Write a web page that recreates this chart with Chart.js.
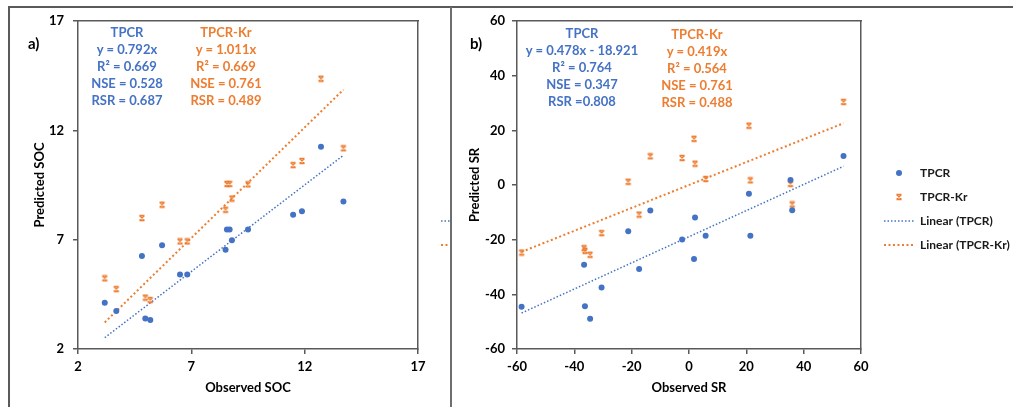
<!DOCTYPE html>
<html>
<head>
<meta charset="utf-8">
<script src="https://cdn.jsdelivr.net/npm/chart.js@4.4.1/dist/chart.umd.min.js"></script>
<style>
  body { margin: 0; background: #fff; width: 1013px; height: 407px; overflow: hidden; position: relative; font-family: Lato, sans-serif; }
  #frame { position: absolute; left: 8px; top: 6px; width: 1200px; height: 600px; border: 2px solid #5a5a5a; }
  #sep { position: absolute; left: 450px; top: 7px; width: 2px; height: 420px; background: #6e6e6e; }
  #wrapA { position: absolute; left: 0; top: 0; width: 450px; height: 407px; overflow: hidden; }
  #chartA { position: absolute; left: 0; top: 0; }
  #chartB { position: absolute; left: 452px; top: 0; }
  .note { position: absolute; width: 200px; text-align: center; font-weight: bold; font-size: 13px; line-height: 17px; white-space: nowrap; }
  .tag { position: absolute; font-weight: bold; font-size: 15px; color: #000; }
</style>
</head>
<body>
<div id="frame"></div>
<div id="wrapA"><canvas id="chartA" width="570" height="407"></canvas></div>
<div id="sep"></div>
<canvas id="chartB" width="561" height="407"></canvas>

<script>
const BLUE = "#4472C4";
const ORANGE = "#ED7D31";
const AXIS = "#595959";

// panel a: soil organic carbon
const socObserved = [3.18, 3.69, 4.82, 4.97, 5.19, 5.71, 6.5, 6.82, 8.51, 8.57, 8.69, 8.79, 9.5, 11.49, 11.88, 12.72, 13.71];
const socTPCR = [4.12, 3.74, 6.25, 3.40, 3.33, 6.74, 5.41, 5.41, 6.54, 7.46, 7.47, 6.97, 7.46, 8.14, 8.30, 11.25, 8.75];
const socTPCRKr = [5.23, 4.74, 7.99, 4.35, 4.24, 8.60, 6.92, 6.92, 8.37, 9.55, 9.55, 8.88, 9.53, 10.41, 10.60, 14.36, 11.18];
const socFitTPCR = [0.792, 0];     // slope, intercept
const socFitTPCRKr = [1.011, 0];
const socTicks = [2, 17, 5];       // min, max, step

// panel b: SR
const srObserved = [-58.4, -36.6, -36.3, -34.5, -30.5, -21.2, -17.4, -13.5, -2.4, 1.75, 2.1, 5.8, 20.9, 21.4, 35.4, 36.0, 53.9];
const srTPCR = [-44.5, -29.2, -44.4, -48.9, -37.5, -16.9, -30.7, -9.3, -19.9, -27.1, -11.9, -18.6, -3.2, -18.6, 1.8, -9.2, 10.6];
const srTPCRKr = [-24.7, -23.1, -24.1, -25.5, -17.6, 1.2, -10.8, 10.5, 9.9, 16.9, 7.8, 2.2, 21.7, 1.7, 0.4, -7.1, 30.4];
const srFitTPCR = [0.478, -18.921];
const srFitTPCRKr = [0.419, 0];
const srTicks = [-60, 60, 20];

const seriesNames = ["TPCR", "TPCR-Kr", "Linear (TPCR)", "Linear (TPCR-Kr)"];

const statsA = [
  ["TPCR", "y = 0.792x", "R² = 0.669", "NSE = 0.528", "RSR = 0.687"],
  ["TPCR-Kr", "y = 1.011x", "R² = 0.669", "NSE = 0.761", "RSR = 0.489"]
];
const statsB = [
  ["TPCR", "y = 0.478x - 18.921", "R² = 0.764", "NSE = 0.347", "RSR =0.808"],
  ["TPCR-Kr", "y = 0.419x", "R² = 0.564", "NSE = 0.761", "RSR = 0.488"]
];

function makeIcon(w, h, draw) {
  const c = document.createElement("canvas");
  c.width = w;
  c.height = h;
  draw(c.getContext("2d"));
  return c;
}

// excel style "x" marker
const xMarker = makeIcon(8, 8, (ctx) => {
  ctx.strokeStyle = ORANGE;
  ctx.lineWidth = 1.3;
  ctx.beginPath();
  ctx.moveTo(1.5, 1.5); ctx.lineTo(6.5, 6.5);
  ctx.moveTo(6.5, 1.5); ctx.lineTo(1.5, 6.5);
  ctx.moveTo(1.5, 1.5); ctx.lineTo(6.5, 1.5);
  ctx.moveTo(1.5, 6.5); ctx.lineTo(6.5, 6.5);
  ctx.stroke();
});

const legendIcons = [
  makeIcon(30, 12, (ctx) => {
    ctx.fillStyle = BLUE;
    ctx.beginPath();
    ctx.arc(15, 6, 3, 0, Math.PI * 2);
    ctx.fill();
  }),
  makeIcon(30, 12, (ctx) => ctx.drawImage(xMarker, 11, 2)),
  makeIcon(30, 12, (ctx) => {
    ctx.strokeStyle = BLUE;
    ctx.lineWidth = 1.5;
    ctx.setLineDash([1.5, 2]);
    ctx.beginPath(); ctx.moveTo(0, 6); ctx.lineTo(30, 6); ctx.stroke();
  }),
  makeIcon(30, 12, (ctx) => {
    ctx.strokeStyle = ORANGE;
    ctx.lineWidth = 2;
    ctx.setLineDash([2, 2.5]);
    ctx.beginPath(); ctx.moveTo(0, 6); ctx.lineTo(30, 6); ctx.stroke();
  })
];

function points(xs, ys) {
  return xs.map((x, i) => ({ x: x, y: ys[i] }));
}

function fitLine(xs, fit) {
  const lo = Math.min(...xs);
  const hi = Math.max(...xs);
  return [{ x: lo, y: fit[0] * lo + fit[1] }, { x: hi, y: fit[0] * hi + fit[1] }];
}

const tickFont = { family: "Lato", size: 13, weight: "bold" };

function makeChart(canvas, o) {
  return new Chart(canvas, {
    type: "scatter",
    data: {
      datasets: [
        {
          label: seriesNames[0], data: points(o.obs, o.tpcr),
          pointStyle: "circle", pointRadius: 3, backgroundColor: BLUE, borderColor: BLUE, borderWidth: 0,
          xAxisID: "x", yAxisID: "y"
        },
        {
          label: seriesNames[1], data: points(o.obs, o.kr),
          pointStyle: xMarker, pointRadius: 4, backgroundColor: ORANGE, borderColor: ORANGE,
          xAxisID: "x", yAxisID: "y"
        },
        {
          label: seriesNames[2], data: fitLine(o.obs, o.fitT), showLine: true,
          pointRadius: 0, borderColor: BLUE, borderWidth: 1.5, borderDash: [1.5, 2], fill: false,
          xAxisID: "x", yAxisID: "y"
        },
        {
          label: seriesNames[3], data: fitLine(o.obs, o.fitK), showLine: true,
          pointRadius: 0, borderColor: ORANGE, borderWidth: 2, borderDash: [2, 2.5], fill: false,
          xAxisID: "x", yAxisID: "y"
        }
      ]
    },
    options: {
      responsive: false,
      animation: false,
      layout: { padding: { left: o.padLeft, right: 0, top: 21, bottom: 10 } },
      plugins: {
        tooltip: { enabled: false },
        legend: {
          position: "right",
          maxWidth: 141,
          labels: {
            usePointStyle: true,
            pointStyleWidth: 30,
            padding: 12,
            color: "#1a1a1a",
            font: { family: "Lato", size: 12, weight: "bold" },
            generateLabels: (chart) => chart.data.datasets.map((ds, i) => ({
              text: ds.label, pointStyle: legendIcons[i], datasetIndex: i,
              lineWidth: 0, hidden: false, fontColor: "#1a1a1a"
            }))
          }
        }
      },
      scales: {
        x: {
          type: "linear", position: "bottom",
          min: o.ticks[0], max: o.ticks[1],
          afterFit: (s) => { s.height = 48; },
          ticks: { stepSize: o.ticks[2], color: "#000", font: tickFont, padding: 5 },
          grid: { display: true, drawOnChartArea: false, drawTicks: true, tickLength: 5, color: AXIS, lineWidth: 1.5 },
          border: { display: true, color: AXIS, width: 1.5 },
          title: { display: true, text: o.xTitle, color: "#000", font: tickFont, padding: { top: 0, bottom: 1 } }
        },
        y: {
          type: "linear", position: "left",
          min: o.yTicks[0], max: o.yTicks[1],
          afterFit: (s) => { s.width = o.yWidth; },
          ticks: { stepSize: o.yTicks[2], color: "#000", font: tickFont, padding: o.yTickPad },
          grid: { display: true, drawOnChartArea: false, drawTicks: true, tickLength: 5, color: AXIS, lineWidth: 1.5 },
          border: { display: true, color: AXIS, width: 1.5 },
          title: { display: true, text: o.yTitle, color: "#000", font: tickFont, padding: { top: o.yTitlePad, bottom: 0 } }
        },
        x2: {
          type: "linear", position: "top", min: 0, max: 1,
          afterFit: (s) => { s.height = 0; },
          ticks: { display: false }, grid: { display: false },
          border: { display: true, color: AXIS, width: 1.5 }
        },
        y2: {
          type: "linear", position: "right", min: 0, max: 1,
          afterFit: (s) => { s.width = 11; },
          ticks: { display: false }, grid: { display: false },
          border: { display: true, color: AXIS, width: 1.5 }
        }
      }
    }
  });
}

makeChart(document.getElementById("chartA"), {
  obs: socObserved, tpcr: socTPCR, kr: socTPCRKr, fitT: socFitTPCR, fitK: socFitTPCRKr,
  ticks: socTicks, yTicks: socTicks, xTitle: "Observed SOC", yTitle: "Predicted SOC",
  padLeft: 10, yWidth: 68, yTitlePad: 22, yTickPad: 9
});

makeChart(document.getElementById("chartB"), {
  obs: srObserved, tpcr: srTPCR, kr: srTPCRKr, fitT: srFitTPCR, fitK: srFitTPCRKr,
  ticks: srTicks, yTicks: srTicks, xTitle: "Observed SR", yTitle: "Predicted SR",
  padLeft: 0, yWidth: 65, yTitlePad: 15, yTickPad: 7
});

// text boxes with the fit statistics
function addNote(lines, cx, top, color) {
  const div = document.createElement("div");
  div.className = "note";
  div.style.left = (cx - 100) + "px";
  div.style.top = top + "px";
  div.style.color = color;
  div.innerHTML = lines.join("<br>");
  document.body.appendChild(div);
}

function addTag(text, left, top) {
  const div = document.createElement("div");
  div.className = "tag";
  div.style.left = left + "px";
  div.style.top = top + "px";
  div.textContent = text;
  document.body.appendChild(div);
}

addNote(statsA[0], 127, 24, BLUE);
addNote(statsA[1], 226, 24, ORANGE);
addNote(statsB[0], 582, 25, BLUE);
addNote(statsB[1], 697, 26, ORANGE);
addTag("a)", 28, 34);
addTag("b)", 470, 34);
</script>
</body>
</html>
